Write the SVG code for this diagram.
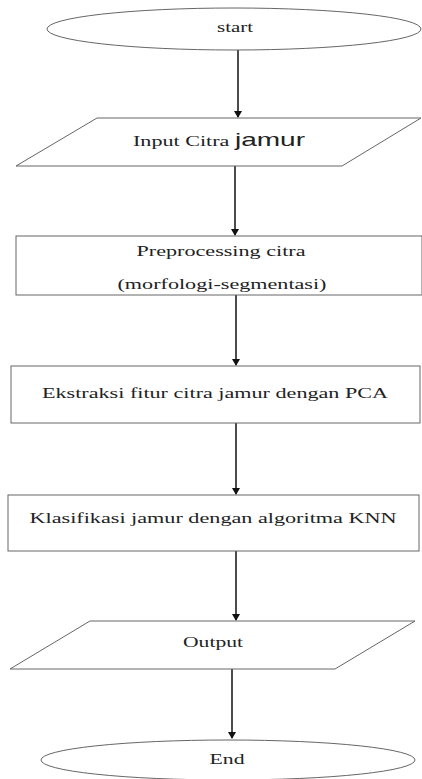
<svg xmlns="http://www.w3.org/2000/svg" width="422" height="779" viewBox="0 0 422 779">
<style>
.sh{fill:#fff;stroke:#666;stroke-width:1}
.t{font-family:"Liberation Serif",serif;font-size:15px;fill:#222;text-anchor:middle}
.c{stroke:#111;stroke-width:1.5;fill:none;marker-end:url(#ah)}
</style>
<defs>
<marker id="ah" markerWidth="8" markerHeight="8" refX="6" refY="4" orient="auto" markerUnits="userSpaceOnUse">
<path d="M0,0 L7,4 L0,8 Z" fill="#111"/>
</marker>
</defs>
<rect width="422" height="779" fill="#fff"/>
<g id="connectors">
<line class="c" x1="238" y1="50" x2="238" y2="117"/>
<line class="c" x1="235" y1="166" x2="235" y2="235"/>
<line class="c" x1="236" y1="295" x2="236" y2="365"/>
<line class="c" x1="236" y1="423" x2="236" y2="494"/>
<line class="c" x1="236" y1="551" x2="236" y2="620"/>
<line class="c" x1="232" y1="669" x2="232" y2="738"/>
</g>
<g id="start">
<ellipse class="sh" cx="234" cy="29" rx="187" ry="21"/>
<text class="t" x="235" y="32" textLength="36" lengthAdjust="spacingAndGlyphs">start</text>
</g>
<g id="input">
<polygon class="sh" points="97,118 421,118 342,166 16,166"/>
<text class="t" x="219" y="146" textLength="172" lengthAdjust="spacingAndGlyphs">Input Citra <tspan style="font-family:'Liberation Sans',sans-serif;font-size:19px">jamur</tspan></text>
</g>
<g id="preprocessing">
<rect class="sh" x="16" y="236" width="406" height="59"/>
<text class="t" x="221" y="256" textLength="169" lengthAdjust="spacingAndGlyphs">Preprocessing citra</text>
<text class="t" x="222" y="289" textLength="209" lengthAdjust="spacingAndGlyphs">(morfologi-segmentasi)</text>
</g>
<g id="ekstraksi">
<rect class="sh" x="11" y="366" width="409" height="57"/>
<text class="t" x="215" y="398" textLength="346" lengthAdjust="spacingAndGlyphs">Ekstraksi fitur citra jamur dengan PCA</text>
</g>
<g id="klasifikasi">
<rect class="sh" x="8" y="495" width="411" height="56"/>
<text class="t" x="213" y="523" textLength="367" lengthAdjust="spacingAndGlyphs">Klasifikasi jamur dengan algoritma KNN</text>
</g>
<g id="output">
<polygon class="sh" points="90,621 415,621 335,669 10,669"/>
<text class="t" x="213" y="647" textLength="60" lengthAdjust="spacingAndGlyphs">Output</text>
</g>
<g id="end">
<ellipse class="sh" cx="228" cy="760" rx="187" ry="20"/>
<text class="t" x="227" y="764" textLength="35" lengthAdjust="spacingAndGlyphs">End</text>
</g>
</svg>
